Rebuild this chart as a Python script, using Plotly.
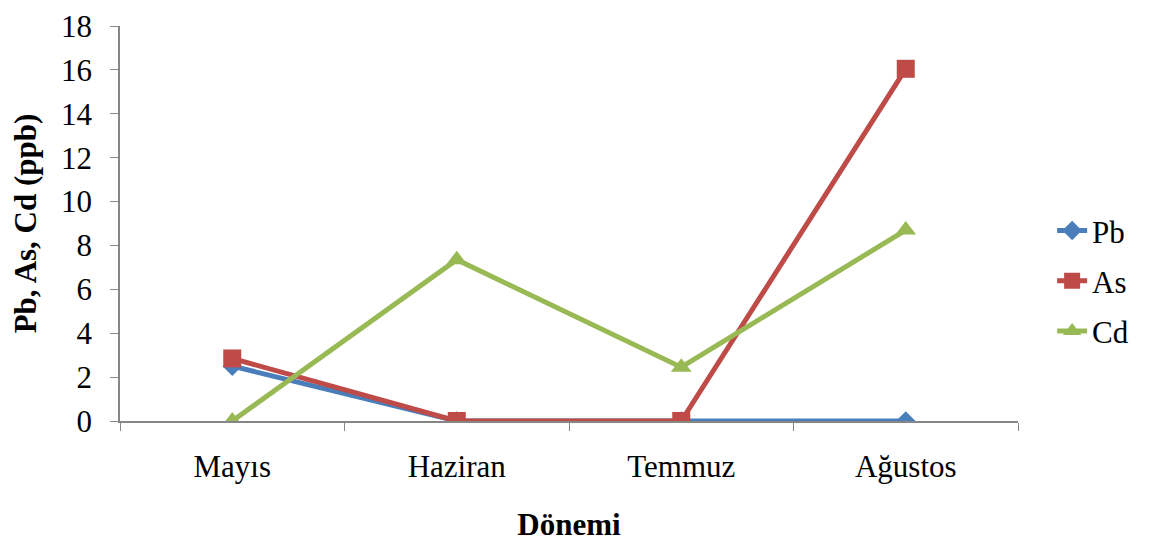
import plotly.graph_objects as go

categories = ["Mayıs", "Haziran", "Temmuz", "Ağustos"]
pb = [2.5, 0, 0, 0]
as_vals = [2.85, 0, 0, 16.05]
cd = [0, 7.35, 2.45, 8.7]

y_ticks = list(range(0, 19, 2))

fig = go.Figure()
fig.add_trace(go.Scatter(x=categories, y=pb, name="Pb", mode="lines+markers", legendgroup="pb",
                         line=dict(color="#4A7EBB", width=5),
                         marker=dict(symbol="diamond", size=15, color="#4A7EBB")))
fig.add_trace(go.Scatter(x=categories, y=as_vals, name="As", mode="lines+markers", legendgroup="as",
                         line=dict(color="#BE4B48", width=5),
                         marker=dict(symbol="square", size=18, color="#BE4B48")))
fig.add_trace(go.Scatter(x=categories, y=cd, name="Cd", mode="lines+markers", legendgroup="cd",
                         line=dict(color="#98B954", width=5),
                         marker=dict(symbol="triangle-up", size=18, color="#98B954")))

font_family = "Liberation Serif, Times New Roman, serif"
fig.update_layout(
    width=1162, height=541,
    margin=dict(l=112, r=152, t=18, b=128),
    paper_bgcolor="white", plot_bgcolor="white",
    font=dict(family=font_family, size=31, color="black"),
    showlegend=True,
    legend=dict(x=1.038, y=0.355, xanchor="left", yanchor="middle",
                font=dict(size=31), traceorder="grouped", tracegroupgap=7),
    xaxis=dict(
        type="category", range=[-0.5, 3.5], automargin=False,
        showline=True, linecolor="#868686", linewidth=1.5,
        ticks="outside", tickson="boundaries", ticklen=8, tickcolor="#868686",
        showgrid=False, zeroline=False,
        tickfont=dict(size=31), ticklabelstandoff=17,
        title=dict(text="<b>Dönemi</b>", font=dict(size=31), standoff=30),
    ),
    yaxis=dict(
        range=[0, 18], tickvals=y_ticks, automargin=False,
        showline=True, linecolor="#868686", linewidth=1.5,
        ticks="outside", ticklen=8, tickcolor="#868686",
        showgrid=False, zeroline=False,
        tickfont=dict(size=31), ticklabelstandoff=12,
        title=dict(text="<b>Pb, As, Cd (ppb)</b>", font=dict(size=31), standoff=17),
    ),
)

fig.write_html("out.html")
